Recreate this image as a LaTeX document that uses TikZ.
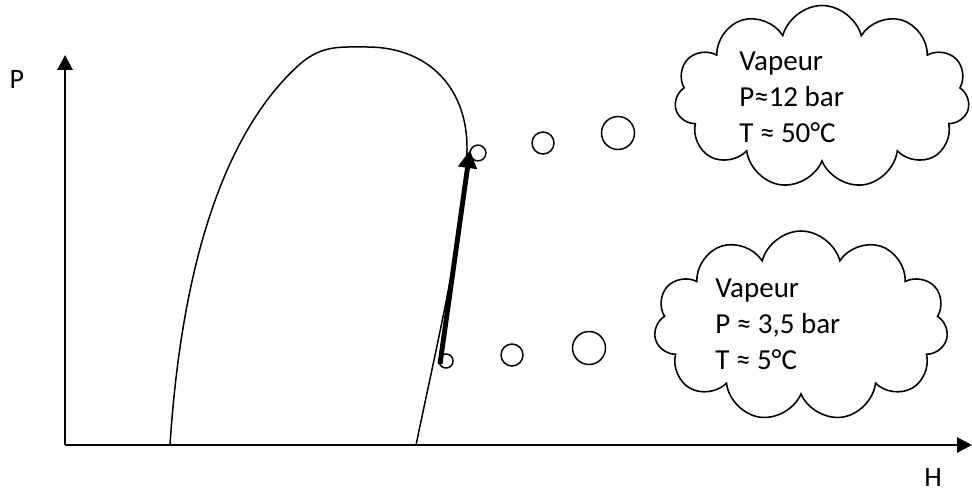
\documentclass[tikz,border=0pt]{standalone}
\usepackage{fontspec}
\setmainfont{Carlito}
\usepackage{tikz}
\usetikzlibrary{arrows.meta,shapes.symbols}

\begin{document}
\begin{tikzpicture}[x=0.02cm,y=-0.02cm,
  axis/.style={black,line width=1.7pt,-{Triangle[length=0.3cm,width=0.3cm]}},
  dome/.style={black,line width=0.85pt},
  bubble/.style={draw,circle,line width=0.85pt,inner sep=0pt},
  nuage/.style={draw,cloud,cloud puffs=11,cloud ignores aspect,line width=0.9pt},
  etat/.style={anchor=north west,align=left,inner sep=0pt,font=\fontsize{16.5}{20.5}\selectfont},
  axlabel/.style={inner sep=0pt,font=\fontsize{16}{19}\selectfont}]
\useasboundingbox (0,0) rectangle (972,493);

% axes
\coordinate (O) at (65,445);
\coordinate (Ptop) at (65,55);
\coordinate (Hend) at (972,445);
\draw[axis] (O) -- (Ptop);
\draw[axis] (O) -- (Hend);
\node[axlabel] (labP) at (17,79) {P};
\node[axlabel] (labH) at (933,477) {H};

% cloche
\draw[dome] (170,445) .. controls (180,290) and (215,140) .. (300,64)
  .. controls (322,45) and (340,47) .. (367,47)
  .. controls (430,47) and (468,90) .. (467,150)
  .. controls (466,220) and (440,330) .. (416,445);

% compression
\node[bubble,minimum size=8pt] (b1) at (446,361) {};
\node[bubble,minimum size=9pt] (b2) at (478,153) {};
\coordinate (s1) at (440,364);
\coordinate (s2) at (470,150);
\draw[line width=2.8pt,-{Triangle[length=0.36cm,width=0.36cm]}] (s1) -- (s2);

% bulles
\node[bubble,minimum size=0.44cm] (b3) at (512,355) {};
\node[bubble,minimum size=0.66cm] (b4) at (589,348) {};
\node[bubble,minimum size=0.44cm] (b5) at (543,143) {};
\node[bubble,minimum size=0.66cm] (b6) at (618,133) {};

% nuages
\node[nuage,minimum width=5.9cm,minimum height=3.66cm] (haut) at (822,97) {};
\node[etat] (txthaut) at (739,52) {Vapeur\\P≈12 bar\\T ≈ 50°C};
\node[nuage,minimum width=5.88cm,minimum height=3.8cm] (bas) at (801,326) {};
\node[etat] (txtbas) at (715,279) {Vapeur\\P ≈ 3,5 bar\\T ≈ 5°C};
\end{tikzpicture}
\end{document}
